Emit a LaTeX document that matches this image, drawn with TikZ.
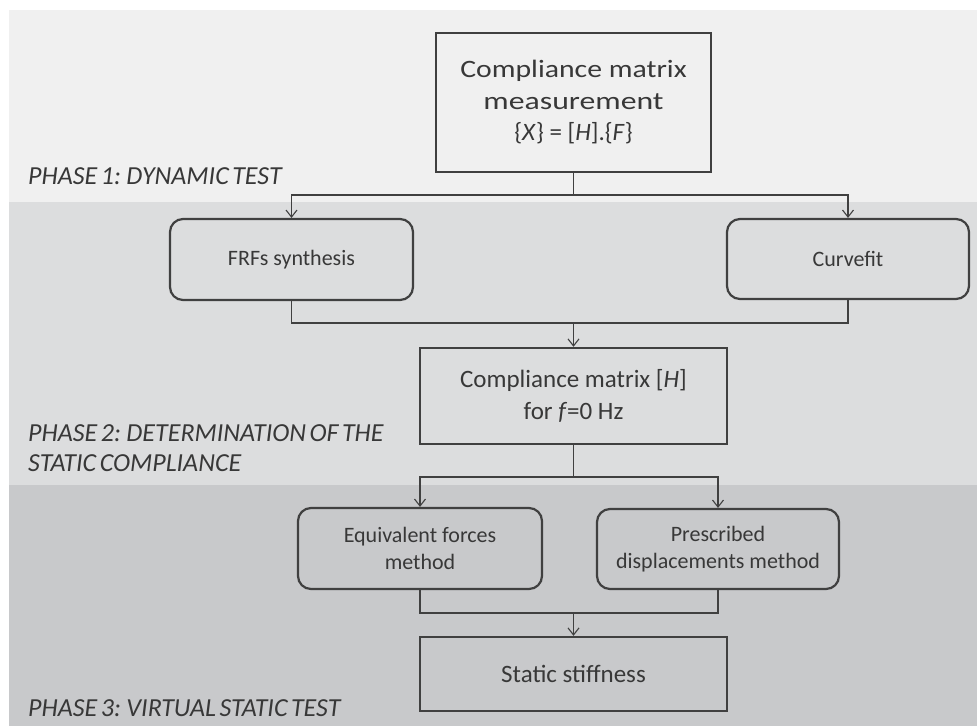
\documentclass[tikz,border=0pt]{standalone}
\usepackage{fontspec}
\setmainfont{Carlito}
\newfontfamily\phasefont{Carlito}[WordSpace=0.6]
\usetikzlibrary{arrows.meta}
\definecolor{bandA}{HTML}{F0F0F0}
\definecolor{bandB}{HTML}{DCDDDE}
\definecolor{bandC}{HTML}{C8C9CB}
\definecolor{ink}{HTML}{404040}
\definecolor{txt}{HTML}{383838}
\newcommand{\wide}[2]{\scalebox{#1}[1]{#2}}
\begin{document}
\begin{tikzpicture}[x=1pt,y=-1pt,
  bigbox/.style={draw=ink,line width=2.4pt,text=txt,align=center,inner sep=0pt,
     font=\fontsize{25}{31.5}\selectfont},
  roundbox/.style={draw=ink,line width=2.2pt,rounded corners=13pt,text=txt,align=center,inner sep=0pt,
     font=\fontsize{22}{27}\selectfont},
  link/.style={draw=ink,line width=1.3pt},
  arr/.style={link,-{Straight Barb[length=7pt,width=11pt,line width=1.1pt]}},
  phase/.style={anchor=west,text=txt,align=left,inner sep=0pt,
     font=\phasefont\fontsize{26}{30}\selectfont\itshape}]
\useasboundingbox (0,0) rectangle (977,726);
\fill[white] (0,0) rectangle (977,726);
\fill[bandA] (9,10) rectangle (977,202);
\fill[bandB] (9,202) rectangle (977,485);
\fill[bandC] (9,485) rectangle (977,726);

\node[bigbox,minimum width=275pt,minimum height=139pt] (meas) at (573.5,102.5)
  {\wide{1.19}{Compliance matrix}\\\wide{1.27}{measurement}\\\{\textit{X}\} = [\textit{H}].\{\textit{F}\}};
\node[roundbox,minimum width=243pt,minimum height=81pt] (frf) at (291.5,259.5) {FRFs synthesis};
\node[roundbox,minimum width=242pt,minimum height=80pt] (cfit) at (848,259) {Curvefit};
\node[bigbox,minimum width=307pt,minimum height=96pt] (hmat) at (573.5,396)
  {Compliance matrix [\textit{H}]\\for \textit{f}=0 Hz};
\node[roundbox,minimum width=244pt,minimum height=81pt] (eqf) at (420,548.5)
  {Equivalent forces\\method};
\node[roundbox,minimum width=242pt,minimum height=80pt] (pres) at (718,549)
  {Prescribed\\displacements method};
\node[bigbox,minimum width=307pt,minimum height=74pt] (stiff) at (573.5,674)
  {Static stiffness};

\node[phase] (p1) at (28,176) {PHASE 1: DYNAMIC TEST};
\node[phase] (p2) at (28,448.5) {PHASE 2: DETERMINATION OF THE\\STATIC COMPLIANCE};
\node[phase] (p3) at (28,708) {PHASE 3: VIRTUAL STATIC TEST};

\coordinate (j1) at (573.5,195);
\draw[link] (meas.south) -- (j1);
\draw[arr] (j1) -| (frf.north);
\draw[arr] (j1) -| (cfit.north);

\coordinate (j2) at (573.5,323);
\draw[link] (frf.south) |- (j2);
\draw[link] (cfit.south) |- (j2);
\draw[arr] (j2) -- (hmat.north);

\coordinate (j3) at (573.5,477);
\draw[link] (hmat.south) -- (j3);
\draw[arr] (j3) -| (eqf.north);
\draw[arr] (j3) -| (pres.north);

\coordinate (j4) at (573.5,613);
\draw[link] (eqf.south) |- (j4);
\draw[link] (pres.south) |- (j4);
\draw[arr] (j4) -- (stiff.north);
\end{tikzpicture}
\end{document}
